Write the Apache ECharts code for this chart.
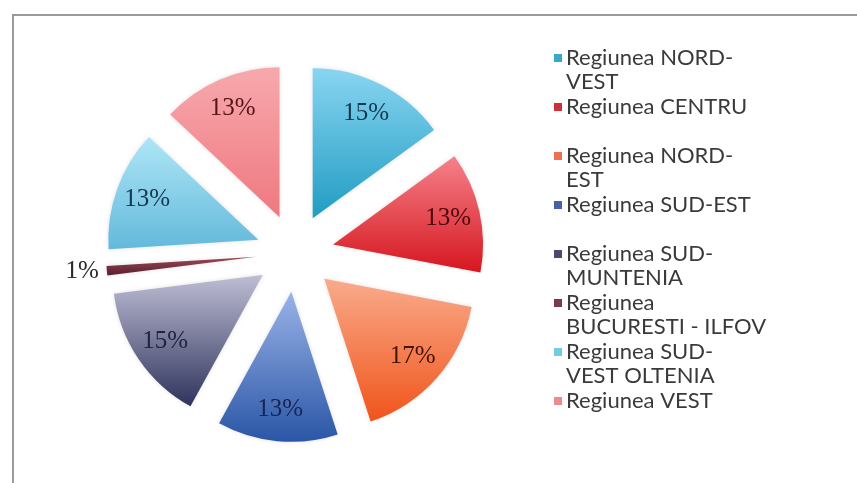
<!DOCTYPE html>
<html>
<head>
<meta charset="utf-8">
<script src="https://cdn.jsdelivr.net/npm/echarts@6/dist/echarts.min.js"></script>
<style>
html,body{margin:0;padding:0;background:#fff;}
#chart{width:857px;height:483px;}
</style>
</head>
<body>
<div id="chart"></div>
<script>
// ---- data ----
const categories = [
  'Regiunea NORD-VEST',
  'Regiunea CENTRU',
  'Regiunea NORD-EST',
  'Regiunea SUD-EST',
  'Regiunea SUD-MUNTENIA',
  'Regiunea BUCURESTI - ILFOV',
  'Regiunea SUD-VEST OLTENIA',
  'Regiunea VEST'
];
const values = [15, 13, 17, 13, 15, 1, 13, 13];
const legendLines = [
  ['Regiunea NORD-', 'VEST'],
  ['Regiunea CENTRU'],
  ['Regiunea NORD-', 'EST'],
  ['Regiunea SUD-EST'],
  ['Regiunea SUD-', 'MUNTENIA'],
  ['Regiunea', 'BUCURESTI - ILFOV'],
  ['Regiunea SUD-', 'VEST OLTENIA'],
  ['Regiunea VEST']
];

// ---- styles ----
const gradTop    = ['#88d5f1', '#f5828a', '#f9ab8c', '#9ab3e8', '#bebed4', '#9a4a58', '#aee6f7', '#f7a9ad'];
const gradBottom = ['#219cc2', '#d6161f', '#f0541a', '#2a56a6', '#2f335c', '#5a1e2e', '#63b9db', '#ef7880'];
const markerColors = ['#3aa6c8', '#cc3038', '#ee7050', '#4862a8', '#4a4a6e', '#7a3a4a', '#74cae6', '#f0888f'];
const labelColors = ['#123850', '#4a080c', '#441204', '#162456', '#222444', '#2a2a2a', '#143652', '#541418'];

const chart = echarts.init(document.getElementById('chart'), null, {renderer: 'canvas'});

const center = [295, 253];
const outerR = 150;
const offset = 39;

const rich = {
  t: {fontFamily: 'Lato', fontSize: 22, color: '#3a3a3a', lineHeight: 24},
  s: {width: 12, height: 10}
};
markerColors.forEach((c, i) => {
  rich['m' + i] = {width: 8, height: 8, backgroundColor: c, padding: 0};
  rich['g' + i] = {width: 4};
});

const mainData = categories.map((name, i) => ({
  name: name,
  value: values[i],
  selected: true,
  itemStyle: {
    color: new echarts.graphic.LinearGradient(0, 0, 0, 1, [
      {offset: 0, color: gradTop[i]},
      {offset: 1, color: gradBottom[i]}
    ])
  },
  label: {show: values[i] < 5, color: labelColors[i]}
}));

const labelData = categories.map((name, i) => ({
  name: name,
  value: values[i],
  selected: true,
  label: {show: values[i] >= 5, color: labelColors[i]}
}));

const pctFmt = p => Math.round(p.percent) + '%';

chart.setOption({
  animation: false,
  backgroundColor: '#ffffff',
  graphic: [{
    type: 'polyline',
    silent: true,
    shape: {points: [[13, 483], [13, 15], [857, 15]]},
    style: {stroke: '#9a9a9a', lineWidth: 2, fill: null}
  }],
  legend: {
    orient: 'vertical',
    left: 544,
    top: 41,
    itemGap: 1,
    itemWidth: 0,
    itemHeight: 0,
    icon: 'rect',
    selectedMode: false,
    data: categories,
    formatter: function (name) {
      const i = categories.indexOf(name);
      const lines = legendLines[i];
      const first = '{m' + i + '|}{g' + i + '|}{t|' + lines[0] + '}';
      const second = '{s|}{t|' + (lines[1] || ' ') + '}';
      return first + '\n' + second;
    },
    textStyle: {rich: rich, lineHeight: 24}
  },
  series: [
    {
      type: 'pie',
      name: 'main',
      center: center,
      radius: [0, outerR],
      startAngle: 90,
      clockwise: true,
      selectedMode: 'multiple',
      selectedOffset: offset,
      avoidLabelOverlap: false,
      data: mainData,
      label: {
        position: 'outside',
        formatter: pctFmt,
        fontFamily: 'Liberation Serif',
        fontSize: 25,
        distanceToLabelLine: 0
      },
      labelLine: {show: false, length: 8, length2: 0},
      emphasis: {disabled: true},
      itemStyle: {shadowBlur: 4, shadowColor: 'rgba(0,0,0,0.12)'}
    },
    {
      type: 'pie',
      name: 'labels',
      center: center,
      radius: [80, outerR],
      startAngle: 90,
      clockwise: true,
      selectedMode: 'multiple',
      selectedOffset: offset,
      silent: true,
      legendHoverLink: false,
      data: labelData,
      itemStyle: {color: 'rgba(0,0,0,0)'},
      label: {
        position: 'inside',
        formatter: pctFmt,
        fontFamily: 'Liberation Serif',
        fontSize: 25
      },
      labelLine: {show: false},
      emphasis: {disabled: true}
    }
  ]
});
</script>
</body>
</html>
